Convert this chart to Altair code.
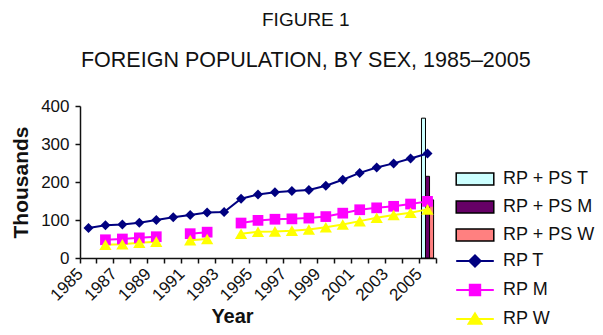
import altair as alt
import pandas as pd

# ---------------- data ----------------
years = list(range(1985, 2006))
rp_t = [79, 86, 88, 93, 100, 107, 113, 120, 121, 156, 167, 173, 176, 179, 190, 206, 224, 238, 249, 262, 275]
rp_m = [None, 48, 50, 53, 56, None, 64, 68, None, 92, 99, 102, 103, 105, 109, 118, 127, 132, 136, 142, 149]
rp_w = [None, 35, 36, 40, 43, None, 47, 50, None, 64, 69, 70, 72, 75, 81, 88, 97, 106, 113, 119, 128]

bar_series = ["RP + PS T", "RP + PS M", "RP + PS W"]
bar_years = [2005, 2005, 2005]
bar_values = [368, 215, 153]

line_series = ["RP T", "RP M", "RP W"]
y_ticks = [0, 100, 200, 300, 400]

# ---------------- styles ----------------
FONT = "Liberation Sans"
INK = "#111111"
bar_colors = ["#ccffff", "#660066", "#ff8080"]
line_colors = ["#000080", "#ff00ff", "#ffff00"]
point_shapes = ["diamond", "square", "triangle-up"]
point_sizes = [100, 115, 150]
bar_legend_path = "M-2.35,-0.75L2.35,-0.75L2.35,0.75L-2.35,0.75Z"
line_legend_paths = [
    "M-2.35,0L2.35,0M-0.7,0L0,-0.7L0.7,0L0,0.7Z",
    "M-2.35,0L2.35,0M-0.65,-0.65L0.65,-0.65L0.65,0.65L-0.65,0.65Z",
    "M-2.35,0L2.35,0M0,-0.7L0.8,0.6L-0.8,0.6Z",
]

rows = []
for s, vals in zip(line_series, [rp_t, rp_m, rp_w]):
    for yr, v in zip(years, vals):
        rows.append({"year": yr, "series": s, "value": v})
lines_df = pd.DataFrame(rows)
bars_df = pd.DataFrame({"year": bar_years, "series": bar_series, "value": bar_values})

x_scale = alt.Scale(type="band", domain=years, paddingInner=0, paddingOuter=0)

x_axis = alt.Axis(
    title="Year", values=years, orient="bottom",
    labelExpr="datum.value % 2 == 1 ? datum.label : ''",
    labelAngle=-45, labelAlign="right", labelBaseline="middle",
    labelFontSize=17, labelFont=FONT, labelColor=INK,
    labelPadding=8, labelOffset=-8, labelOverlap=False, labelFlush=False,
    bandPosition=0, tickSize=5, tickWidth=1.5, tickColor=INK,
    domainColor=INK, domainWidth=1.5, grid=False,
    titleFontSize=20, titleFont=FONT, titleFontWeight="bold", titleColor=INK,
    titleX=152, titleY=64, titleAlign="center", titleBaseline="alphabetic",
)
# closing tick at the right end of the category axis
x_end_axis = alt.Axis(
    title=None, values=[years[-1]], orient="bottom", labels=False, domain=False, grid=False,
    bandPosition=1, tickSize=5, tickWidth=1.5, tickColor=INK,
)
x_main = alt.X("year:O", scale=x_scale, axis=x_axis)
x_plain = alt.X("year:O", scale=x_scale, axis=None)
x_end = alt.X("year:O", scale=x_scale, axis=x_end_axis)

y_axis = alt.Axis(
    title="Thousands", values=y_ticks, grid=False,
    tickSize=5, tickWidth=1.5, tickColor=INK, domainColor=INK, domainWidth=1.5,
    labelFontSize=17, labelFont=FONT, labelColor=INK, labelPadding=6,
    titleFontSize=21, titleFont=FONT, titleFontWeight="bold", titleColor=INK, titlePadding=9,
)
y_enc = alt.Y("value:Q", scale=alt.Scale(domain=[0, 400], nice=False), axis=y_axis)

bar_legend = alt.Legend(
    title=None, orient="none", legendX=386, legendY=64, direction="vertical",
    symbolType=bar_legend_path, symbolSize=256, symbolStrokeColor="black", symbolStrokeWidth=1.5,
    symbolOffset=0, labelFontSize=18, labelFont=FONT, labelColor=INK, labelOffset=19,
    rowPadding=10, padding=0,
)
line_legend = alt.Legend(
    title=None, orient="none", legendX=386, legendY=146, direction="vertical",
    symbolSize=256, symbolStrokeWidth=2, symbolOffset=0,
    labelFontSize=18, labelFont=FONT, labelColor=INK, labelOffset=19,
    rowPadding=9, padding=0,
)

bars = alt.Chart(bars_df).mark_bar(stroke="black", strokeWidth=1, opacity=1).encode(
    x=x_main,
    xOffset=alt.XOffset("series:N", scale=alt.Scale(domain=bar_series, paddingInner=0, paddingOuter=0.6)),
    y=y_enc,
    fill=alt.Fill("series:N", scale=alt.Scale(domain=bar_series, range=bar_colors), legend=bar_legend),
)

lines = alt.Chart(lines_df).mark_line(strokeWidth=2).encode(
    x=x_plain, y=y_enc,
    stroke=alt.Stroke("series:N", scale=alt.Scale(domain=line_series, range=line_colors), legend=line_legend),
)

points = []
for s, shp, sz in zip(line_series, point_shapes, point_sizes):
    points.append(
        alt.Chart(lines_df).transform_filter(alt.datum.series == s)
        .mark_point(filled=True, shape=shp, size=sz, opacity=1)
        .encode(x=x_plain, y=y_enc,
                color=alt.Color("series:N", scale=alt.Scale(domain=line_series, range=line_colors), legend=line_legend))
    )

legend_layer = alt.Chart(lines_df).transform_filter("false").mark_point(filled=True, opacity=1).encode(
    x=x_end, y=y_enc,
    shape=alt.Shape("series:N", scale=alt.Scale(domain=line_series, range=line_legend_paths), legend=line_legend),
    color=alt.Color("series:N", scale=alt.Scale(domain=line_series, range=line_colors), legend=line_legend),
    stroke=alt.Stroke("series:N", scale=alt.Scale(domain=line_series, range=line_colors), legend=line_legend),
)

chart = alt.layer(bars, lines, *points, legend_layer).resolve_axis(x="independent").properties(
    width=356, height=152,
    title=alt.TitleParams(
        text="FIGURE 1", subtitle="FOREIGN POPULATION, BY SEX, 1985–2005",
        anchor="middle", frame="bounds", font=FONT, fontSize=19, fontWeight="normal", color=INK,
        subtitleFont=FONT, subtitleFontSize=21.5, subtitleColor=INK, subtitlePadding=20, offset=26, dx=3,
    ),
    autosize=alt.AutoSizeParams(type="none"),
    padding={"left": 72, "top": 98, "right": 159, "bottom": 69},
).configure_view(stroke=None)

chart.save("out.html", embed_options={"renderer": "svg", "actions": False})
